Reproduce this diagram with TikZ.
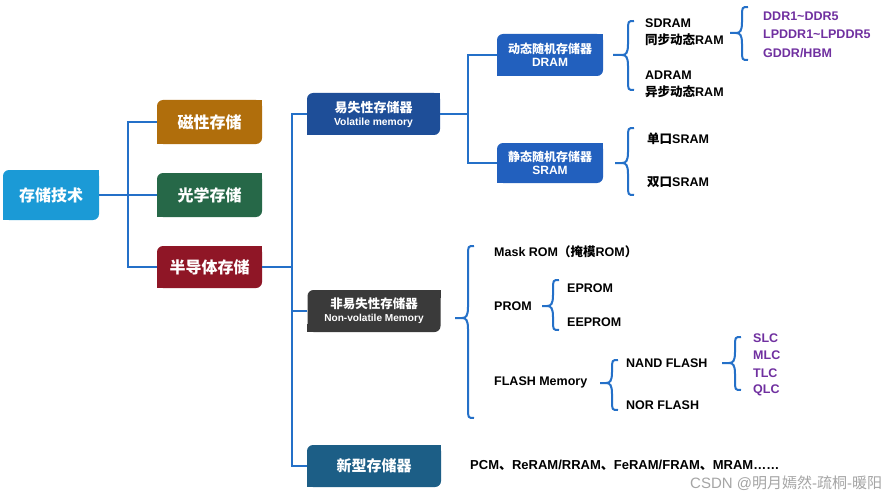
\documentclass[tikz,border=0pt]{standalone}
\usepackage{fontspec}
\setmainfont{Liberation Sans}
\newfontfamily\cjk{Noto Sans CJK SC}
\XeTeXinterchartokenstate=1
\newXeTeXintercharclass\CJKcls
\makeatletter
\count@="4E00
\loop \XeTeXcharclass\count@=\CJKcls \ifnum\count@<"9FFF \advance\count@ 1 \repeat
\count@="3000
\loop \XeTeXcharclass\count@=\CJKcls \ifnum\count@<"303F \advance\count@ 1 \repeat
\count@="FF00
\loop \XeTeXcharclass\count@=\CJKcls \ifnum\count@<"FF5E \advance\count@ 1 \repeat
\makeatother
\XeTeXinterchartoks 0 \CJKcls = {\cjk}
\XeTeXinterchartoks 4095 \CJKcls = {\cjk}
\XeTeXinterchartoks \CJKcls 0 = {\rmfamily}
\XeTeXinterchartoks \CJKcls 4095 = {\rmfamily}
\definecolor{lineblue}{RGB}{36,112,200}
\definecolor{rootc}{RGB}{27,154,214}
\definecolor{magc}{RGB}{176,110,12}
\definecolor{optc}{RGB}{38,104,72}
\definecolor{semc}{RGB}{143,22,38}
\definecolor{volc}{RGB}{30,78,152}
\definecolor{dramc}{RGB}{34,96,190}
\definecolor{nvc}{RGB}{58,58,58}
\definecolor{newc}{RGB}{28,94,134}
\definecolor{txtpurple}{RGB}{112,48,160}
\definecolor{wmc}{RGB}{165,165,165}
\newcommand\mybrace[5]{%
 \draw[ln] ({#2+6},#3) .. controls (#2,#3) .. (#2,{#3+10}) -- (#2,{#4-11}) .. controls (#2,{#4-2}) and ({#2-2},#4) .. ({#2-6},#4) -- (#1,#4);
 \draw[ln] ({#2-6},#4) .. controls ({#2-2},#4) and (#2,{#4+2}) .. (#2,{#4+11}) -- (#2,{#5-10}) .. controls (#2,#5) .. ({#2+6},#5);}
\newcommand\leaf[2]{%
 \fill[#2] (#1.north east) rectangle ++(-8,8);
 \fill[#2] (#1.south west) rectangle ++(8,-8);}
\tikzset{
 ln/.style={draw=lineblue, line width=2pt},
 box/.style={fill=#1, rounded corners=6pt, text=white, inner sep=0pt, align=center},
 itm/.style={anchor=west, inner sep=0pt, font=\bfseries\fontsize{12.5}{17}\selectfont, align=left},
 pur/.style={itm, text=txtpurple},
}
\begin{document}
\begin{tikzpicture}[x=1pt,y=-1pt]
\useasboundingbox (0,0) rectangle (891,500);
\fill[white] (0,0) rectangle (891,500);
% level 1
\node[box=rootc, minimum width=96, minimum height=50, font=\bfseries\fontsize{16}{18}\selectfont] (root) at (51,195) {存储技术};
\node[box=magc, minimum width=105, minimum height=44, font=\bfseries\fontsize{16}{18}\selectfont] (ci) at (209.5,122) {磁性存储};
\node[box=optc, minimum width=105, minimum height=44, font=\bfseries\fontsize{16}{18}\selectfont] (gx) at (209.5,195) {光学存储};
\node[box=semc, minimum width=105, minimum height=42, font=\bfseries\fontsize{16}{18}\selectfont] (ban) at (209.5,267) {半导体存储};
\leaf{root}{rootc}\leaf{ci}{magc}\leaf{gx}{optc}\leaf{ban}{semc}
% level 2
\node[box=volc, minimum width=133, minimum height=42] (yi) at (373.5,114)
 {{\bfseries\fontsize{13}{15}\selectfont 易失性存储器}\\[1pt]{\bfseries\fontsize{10.3}{12}\selectfont Volatile memory}};
\node[box=nvc, minimum width=133, minimum height=42] (fei) at (374,311)
 {{\bfseries\fontsize{12.5}{15}\selectfont 非易失性存储器}\\[1pt]{\bfseries\fontsize{10.1}{12}\selectfont Non-volatile Memory}};
\node[box=newc, minimum width=134, minimum height=42, font=\bfseries\fontsize{15}{17}\selectfont] (xin) at (374,466) {新型存储器};
\leaf{yi}{volc}\leaf{fei}{nvc}\leaf{xin}{newc}
% level 3
\node[box=dramc, minimum width=106, minimum height=42] (dram) at (550,55)
 {{\bfseries\fontsize{12}{14}\selectfont 动态随机存储器}\\[1pt]{\bfseries\fontsize{12}{14}\selectfont DRAM}};
\node[box=dramc, minimum width=106, minimum height=40] (sram) at (550,163)
 {{\bfseries\fontsize{12}{14}\selectfont 静态随机存储器}\\[1pt]{\bfseries\fontsize{12}{14}\selectfont SRAM}};
\leaf{dram}{dramc}\leaf{sram}{dramc}
% connectors
\coordinate (j1) at (128,0);
\coordinate (j2) at (292,0);
\coordinate (j3) at (468,0);
\draw[ln] (root.east) -- (root.east -| j1);
\draw[ln] (ci.west) -- (ci.west -| j1) |- (ban.west);
\draw[ln] (gx.west) -- (gx.west -| j1);
\draw[ln] (ban.east) -- (ban.east -| j2);
\draw[ln] (yi.west) -- (yi.west -| j2) |- (xin.west);
\draw[ln] (fei.west) -- (fei.west -| j2);
\draw[ln] (yi.east) -- (yi.east -| j3);
\draw[ln] (dram.west) -- (dram.west -| j3) |- (sram.west);
% items
\node[itm] (sd) at (645,32.5) {SDRAM\\同步动态RAM};
\node[itm] (ad) at (645,84) {ADRAM\\异步动态RAM};
\node[pur] (d1) at (763,16) {DDR1{\char"7E}DDR5};
\node[pur] (d2) at (763,34) {LPDDR1{\char"7E}LPDDR5};
\node[pur] (d3) at (763,53) {GDDR/HBM};
\node[itm] (s1) at (647,139) {单口SRAM};
\node[itm] (s2) at (647,182) {双口SRAM};
\node[itm] (mr) at (494,252) {Mask ROM（掩模ROM）};
\node[itm] (pr) at (494,306) {PROM};
\node[itm] (ep) at (567,288) {EPROM};
\node[itm] (eep) at (567,322) {EEPROM};
\node[itm] (fl) at (494,382) {FLASH Memory};
\node[itm] (nand) at (626,363) {NAND FLASH};
\node[itm] (nor) at (626,405) {NOR FLASH};
\node[pur] (slc) at (753,338) {SLC};
\node[pur] (mlc) at (753,355.5) {MLC};
\node[pur] (tlc) at (753,373) {TLC};
\node[pur] (qlc) at (753,390.5) {QLC};
\node[itm, font=\bfseries\fontsize{13}{17}\selectfont] (pcm) at (470,465) {PCM、ReRAM/RRAM、FeRAM/FRAM、MRAM……};
\node[anchor=west, inner sep=0pt, text=wmc, font=\fontsize{15}{17}\selectfont] (wm) at (690,483) {CSDN @明月嫣然-疏桐-暖阳};
% braces
\mybrace{613}{628}{21}{55}{90}
\mybrace{730}{742}{7}{33}{60}
\mybrace{615}{628}{128}{163}{195}
\mybrace{455}{468}{246}{318}{418}
\mybrace{542}{553}{280}{306}{330}
\mybrace{600}{612}{360}{383}{410}
\mybrace{722}{735}{337}{363}{390}
\end{tikzpicture}
\end{document}
